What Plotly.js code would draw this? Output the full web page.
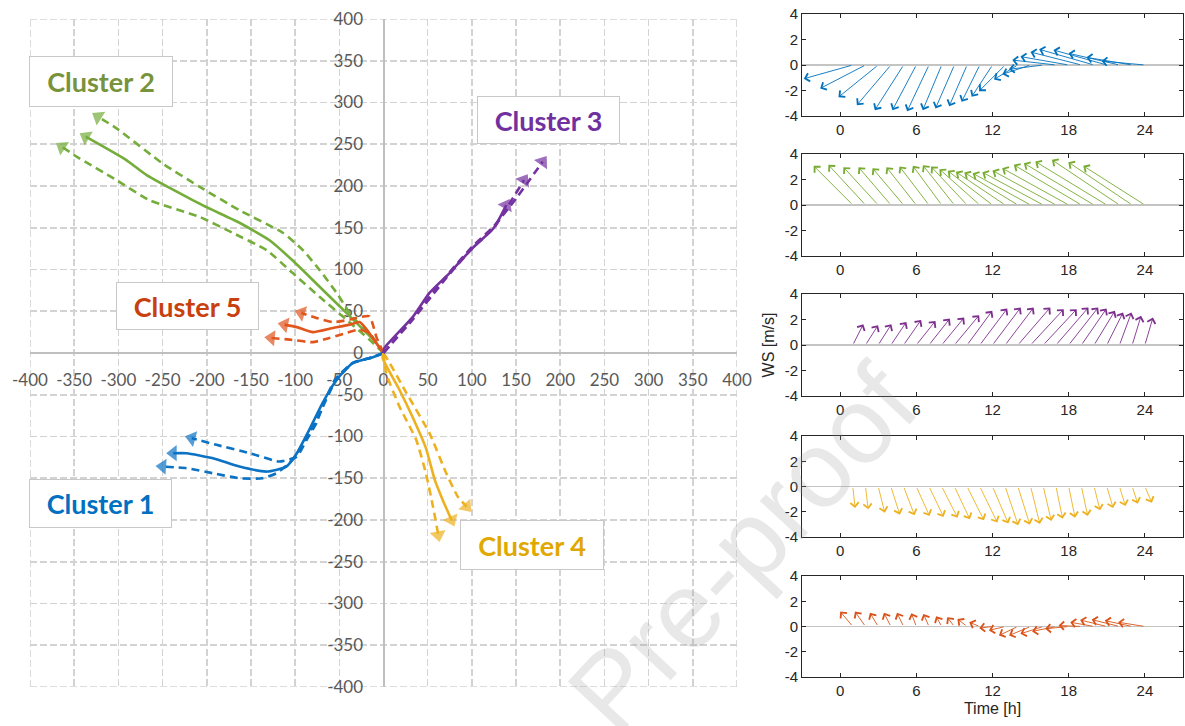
<!DOCTYPE html>
<html>
<head>
<meta charset="utf-8">
<script src="https://cdn.plot.ly/plotly-3.0.1.min.js"></script>
<style>
  html, body { margin: 0; padding: 0; background: #fff; }
  #chart { width: 1185px; height: 726px; }
</style>
</head>
<body>
<div id="chart"></div>
<script>
// ---------- Hodograph (cumulative wind run) per cluster ----------
// Each cluster: mean path (solid) and two bounding paths (dashed).
const C1_MEAN_X = [0, -12, -35, -53, -69, -84, -98, -110, -132, -163, -193, -223, -238];
const C1_MEAN_Y = [0, -5, -12, -32, -60, -92, -120, -136, -142, -136, -126, -120, -120];
const C1_HI_X   = [0, -12, -35, -55, -67, -76, -87, -98, -118, -151, -189, -217];
const C1_HI_Y   = [0, -5, -12, -32, -59, -84, -104, -124, -130, -120, -110, -102];
const C1_LO_X   = [0, -12, -35, -55, -72, -84, -103, -121, -137, -163, -193, -223, -250];
const C1_LO_Y   = [0, -5, -12, -35, -72, -96, -128, -144, -150, -150, -144, -138, -136];

const C2_MEAN_X = [0, -8, -42, -72, -103, -129, -163, -205, -268, -291, -337];
const C2_MEAN_Y = [0, 12, 48, 79, 111, 135, 156, 177, 213, 231, 259];
const C2_HI_X   = [0, -16, -35, -53, -72, -91, -114, -163, -208, -250, -302, -323];
const C2_HI_Y   = [0, 24, 43, 72, 99, 123, 144, 171, 199, 227, 269, 283];
const C2_LO_X   = [0, -16, -42, -72, -103, -132, -171, -208, -265, -302, -347, -364];
const C2_LO_Y   = [0, 16, 40, 67, 96, 123, 144, 163, 183, 207, 235, 247];

const C3_MEAN_X = [0, 1, 33, 52, 75, 101, 125, 139];
const C3_MEAN_Y = [0, 6, 43, 72, 96, 126, 150, 177];
const C3_HI_X   = [0, 33, 75, 101, 125, 150, 165, 180];
const C3_HI_Y   = [0, 42, 97, 128, 152, 185, 207, 229];
const C3_LO_X   = [0, 33, 75, 101, 125, 142, 159];
const C3_LO_Y   = [0, 40, 95, 126, 150, 178, 207];

const C4_MEAN_X = [0, -1, 18, 33, 48, 58, 67, 77];
const C4_MEAN_Y = [0, -6, -44, -77, -114, -152, -176, -200];
const C4_HI_X   = [0, 7, 26, 52, 71, 84, 94];
const C4_HI_Y   = [0, -12, -48, -96, -144, -172, -184];
const C4_LO_X   = [0, 3, 18, 37, 48, 56, 62];
const C4_LO_Y   = [0, -24, -64, -104, -144, -184, -218];

const C5_MEAN_X = [0, -5, -19, -27, -38, -57, -80, -98, -112];
const C5_MEAN_Y = [0, 7, 28, 37, 34, 30, 25, 31, 34];
const C5_HI_X   = [0, -8, -12, -16, -27, -38, -57, -76, -93];
const C5_HI_Y   = [0, 19, 34, 44, 43, 40, 37, 42, 48];
const C5_LO_X   = [0, -8, -16, -27, -42, -61, -80, -106, -127];
const C5_LO_Y   = [0, 12, 24, 28, 24, 18, 13, 16, 18];

const CLUSTER_NAMES = ['Cluster 1', 'Cluster 2', 'Cluster 3', 'Cluster 4', 'Cluster 5'];
const RUN_TICKS = [-400, -350, -300, -250, -200, -150, -100, -50, 0, 50, 100, 150, 200, 250, 300, 350, 400];

// ---------- Hourly wind vectors per cluster (quiver panels) ----------
const HOURS = [1, 2, 3, 4, 5, 6, 7, 8, 9, 10, 11, 12, 13, 14, 15, 16, 17, 18, 19, 20, 21, 22, 23, 24];
const Q1_U = [-3.86, -3.57, -3.13, -2.68, -2.27, -1.88, -1.72, -1.49, -1.49, -1.41, -1.43, -1.64, -2.06, -1.88, -2.22, -2.71, -3.44, -3.80, -4.01, -4.33, -4.20, -4.01, -3.60, -3.41];
const Q1_V = [-1.08, -1.84, -2.52, -3.15, -3.54, -3.54, -3.62, -3.54, -3.41, -3.23, -2.89, -2.49, -2.05, -1.13, -0.73, -0.34, 0.39, 0.66, 1.02, 1.23, 1.18, 0.92, 0.60, 0.31];
const Q2_U = [-3.08, -2.92, -2.74, -2.55, -2.45, -2.35, -2.32, -2.27, -2.48, -2.84, -3.18, -3.52, -3.88, -4.22, -4.56, -4.80, -5.00, -5.24, -5.32, -5.53, -5.63, -5.32, -5.03, -4.85];
const Q2_V = [3.07, 3.15, 2.97, 2.97, 2.89, 2.97, 3.02, 3.07, 3.12, 3.02, 2.81, 2.68, 2.60, 2.55, 2.49, 2.57, 2.70, 2.89, 3.15, 3.28, 3.41, 3.54, 3.36, 3.07];
const Q3_U = [0.83, 0.99, 1.04, 1.22, 1.38, 1.51, 1.64, 1.77, 1.95, 1.98, 2.16, 2.22, 2.24, 2.55, 2.61, 2.63, 2.55, 2.32, 1.98, 1.64, 1.28, 0.94, 0.70, 0.63];
const Q3_V = [1.63, 1.55, 1.63, 1.81, 1.97, 1.89, 2.07, 2.15, 2.34, 2.68, 2.86, 2.94, 2.94, 2.94, 2.81, 2.81, 2.94, 2.94, 2.86, 2.68, 2.55, 2.55, 2.29, 2.15];
const Q4_U = [0.18, 0.21, 0.52, 0.70, 0.86, 1.04, 1.15, 1.25, 1.22, 1.33, 1.38, 1.25, 1.02, 0.94, 0.73, 0.63, 0.52, 0.50, 0.50, 0.47, 0.50, 0.47, 0.44, 0.55];
const Q4_V = [-1.71, -1.81, -2.07, -2.23, -2.28, -2.34, -2.41, -2.47, -2.60, -2.68, -2.86, -2.94, -3.07, -3.02, -2.97, -2.73, -2.55, -2.47, -2.34, -1.89, -1.71, -1.55, -1.36, -1.29];
const Q5_U = [-0.99, -0.83, -0.65, -0.55, -0.52, -0.39, -0.44, -0.44, -0.57, -0.76, -0.83, -1.04, -1.28, -1.49, -1.69, -1.80, -1.88, -1.85, -1.80, -1.88, -2.10, -2.19, -2.16, -2.11];
const Q5_V = [1.18, 1.18, 1.08, 1.08, 1.08, 1.05, 1.00, 0.81, 0.73, 0.60, 0.34, -0.13, -0.31, -0.71, -0.71, -0.58, -0.39, -0.18, 0.08, 0.34, 0.52, 0.55, 0.47, 0.34];

const TIME_TICKS = [0, 6, 12, 18, 24];
const WS_TICKS = [-4, -2, 0, 2, 4];
const RUN_LIMIT = 400;   // extent of the hodograph axes

// plain hyphen-minus labels (Plotly would otherwise use the wider U+2212)
const label = v => String(v);

// ---------- styling ----------
const W = 1185, H = 726;
const px = v => v / W;          // pixel -> paper x
const py = v => 1 - v / H;      // pixel -> paper y

const LINE_COLORS = ['#0B72C4', '#74AD3A', '#7431A0', '#EDB120', '#E0561C'];
const LABEL_COLORS = ['#0070C0', '#77933C', '#7030A0', '#E0A800', '#C8400E'];
const QUIVER_COLORS = ['#0072BD', '#77AC30', '#7E2F8E', '#EDB120', '#D95319'];
const GRID_COLOR = '#d3d3d3', GRID_DASH = '7px,3px', GRID_W = 1.6;

function path(xs, ys, color, dashed) {
  return {
    type: 'scatter', mode: 'lines+markers', x: xs, y: ys,
    xaxis: 'x', yaxis: 'y',
    line: { color: color, width: 2.6, dash: dashed ? '8px,5px' : 'solid', shape: 'spline', smoothing: 0.5 },
    marker: {
      symbol: 'triangle-up', angleref: 'previous', color: color,
      size: xs.map((_, i) => (i === xs.length - 1 ? 14 : 0)),
      line: { width: 0 }
    },
    cliponaxis: false, hoverinfo: 'skip', showlegend: false
  };
}

const traces = [
  path(C2_HI_X, C2_HI_Y, LINE_COLORS[1], true),
  path(C2_LO_X, C2_LO_Y, LINE_COLORS[1], true),
  path(C2_MEAN_X, C2_MEAN_Y, LINE_COLORS[1], false),
  path(C5_HI_X, C5_HI_Y, LINE_COLORS[4], true),
  path(C5_LO_X, C5_LO_Y, LINE_COLORS[4], true),
  path(C5_MEAN_X, C5_MEAN_Y, LINE_COLORS[4], false),
  path(C1_HI_X, C1_HI_Y, LINE_COLORS[0], true),
  path(C1_LO_X, C1_LO_Y, LINE_COLORS[0], true),
  path(C1_MEAN_X, C1_MEAN_Y, LINE_COLORS[0], false),
  path(C4_HI_X, C4_HI_Y, LINE_COLORS[3], true),
  path(C4_LO_X, C4_LO_Y, LINE_COLORS[3], true),
  path(C4_MEAN_X, C4_MEAN_Y, LINE_COLORS[3], false),
  path(C3_HI_X, C3_HI_Y, LINE_COLORS[2], true),
  path(C3_LO_X, C3_LO_Y, LINE_COLORS[2], true),
  path(C3_MEAN_X, C3_MEAN_Y, LINE_COLORS[2], false)
];

// empty traces so that every quiver subplot exists
for (let k = 2; k <= 6; k++) {
  traces.push({ type: 'scatter', mode: 'markers', x: [], y: [], xaxis: 'x' + k, yaxis: 'y' + k,
                hoverinfo: 'skip', showlegend: false });
}

const leftX = [px(30), px(737)];
const leftY = [py(687), py(19)];
const tickFont = { family: 'Lato, Carlito, sans-serif', size: 17, color: '#595959' };

const layout = {
  width: W, height: H,
  margin: { l: 0, r: 0, t: 0, b: 0 },
  paper_bgcolor: '#ffffff', plot_bgcolor: 'rgba(0,0,0,0)',
  showlegend: false,
  xaxis: {
    domain: leftX, range: [-RUN_LIMIT, RUN_LIMIT],
    tickmode: 'array', tickvals: RUN_TICKS, ticktext: RUN_TICKS.map(label),
    anchor: 'free', position: (leftY[0] + leftY[1]) / 2,
    showline: true, linecolor: '#bfbfbf', linewidth: 2, layer: 'below traces',
    showgrid: true, gridcolor: GRID_COLOR, gridwidth: GRID_W, griddash: GRID_DASH,
    zeroline: false, ticks: '', ticklabelstandoff: 12, tickfont: tickFont,
    fixedrange: true
  },
  yaxis: {
    domain: leftY, range: [-RUN_LIMIT, RUN_LIMIT],
    tickmode: 'array', tickvals: RUN_TICKS, ticktext: RUN_TICKS.map(label),
    anchor: 'free', position: (leftX[0] + leftX[1]) / 2,
    showline: true, linecolor: '#bfbfbf', linewidth: 2, layer: 'below traces',
    showgrid: true, gridcolor: GRID_COLOR, gridwidth: GRID_W, griddash: GRID_DASH,
    zeroline: false, ticks: '', ticklabelstandoff: 16, tickfont: tickFont,
    fixedrange: true
  },
  shapes: [],
  annotations: [],
  font: { family: 'Liberation Sans, Arial, sans-serif' }
};

// outer dashed frame of the hodograph grid
[[-RUN_LIMIT, -RUN_LIMIT, -RUN_LIMIT, RUN_LIMIT], [RUN_LIMIT, -RUN_LIMIT, RUN_LIMIT, RUN_LIMIT],
 [-RUN_LIMIT, -RUN_LIMIT, RUN_LIMIT, -RUN_LIMIT], [-RUN_LIMIT, RUN_LIMIT, RUN_LIMIT, RUN_LIMIT]].forEach(s => {
  layout.shapes.push({ type: 'line', xref: 'x', yref: 'y', x0: s[0], y0: s[1], x1: s[2], y1: s[3],
    layer: 'below', line: { color: GRID_COLOR, width: GRID_W, dash: GRID_DASH } });
});

// quiver panels
const panelTops = [14, 154, 294, 436, 576];
const panelBottoms = [116, 256, 396, 537, 677];
const quiverFont = { family: 'Liberation Sans, Arial, sans-serif', size: 15, color: '#262626' };
for (let k = 0; k < 5; k++) {
  const n = k + 2;
  layout['xaxis' + n] = {
    domain: [px(802), px(1183)], range: [-3, 27], anchor: 'y' + n,
    tickmode: 'array', tickvals: TIME_TICKS, ticktext: TIME_TICKS.map(label),
    ticks: 'inside', ticklen: 4, tickcolor: '#262626',
    showline: true, mirror: 'ticks', linecolor: '#262626', linewidth: 1,
    showgrid: false, zeroline: false, tickfont: quiverFont, fixedrange: true
  };
  layout['yaxis' + n] = {
    domain: [py(panelBottoms[k]), py(panelTops[k])], range: [-4, 4], anchor: 'x' + n,
    tickmode: 'array', tickvals: WS_TICKS, ticktext: WS_TICKS.map(label),
    ticks: 'inside', ticklen: 4, tickcolor: '#262626',
    showline: true, mirror: 'ticks', linecolor: '#262626', linewidth: 1,
    showgrid: false, zeroline: true, zerolinecolor: '#c4c4c4', zerolinewidth: 1.5,
    tickfont: quiverFont, fixedrange: true
  };
}
layout.yaxis4.title = { text: 'WS [m/s]', font: { family: 'Liberation Sans, Arial, sans-serif', size: 16, color: '#262626' }, standoff: 6 };
layout.xaxis6.title = { text: 'Time [h]', font: { family: 'Liberation Sans, Arial, sans-serif', size: 16, color: '#262626' }, standoff: 4 };

const quivers = [[Q1_U, Q1_V], [Q2_U, Q2_V], [Q3_U, Q3_V], [Q4_U, Q4_V], [Q5_U, Q5_V]];
quivers.forEach((q, k) => {
  const xr = 'x' + (k + 2), yr = 'y' + (k + 2);
  HOURS.forEach((t, i) => {
    layout.annotations.push({
      xref: xr, yref: yr, axref: xr, ayref: yr,
      x: t + q[0][i], y: q[1][i], ax: t, ay: 0,
      text: '', showarrow: true, arrowhead: 4, arrowsize: 1.8, arrowwidth: 0.9,
      arrowcolor: QUIVER_COLORS[k], standoff: 0, startstandoff: 0
    });
  });
});

// watermark
layout.annotations.push({
  xref: 'paper', yref: 'paper', x: px(742), y: py(548), xanchor: 'center', yanchor: 'middle',
  text: 'Pre-proof', showarrow: false, textangle: -47,
  font: { family: 'Liberation Sans, Arial, sans-serif', size: 108, color: 'rgba(150,150,150,0.22)' }
});

// cluster labels
const labelBoxes = [
  { cx: 100.5, cy: 503.5, w: 143, h: 49 },
  { cx: 101, cy: 81.5, w: 144, h: 51 },
  { cx: 548.5, cy: 120, w: 143, h: 48 },
  { cx: 532, cy: 545, w: 144, h: 50 },
  { cx: 187.5, cy: 306, w: 143, h: 48 }
];
labelBoxes.forEach((b, k) => {
  layout.annotations.push({
    xref: 'paper', yref: 'paper', x: px(b.cx), y: py(b.cy),
    xanchor: 'center', yanchor: 'middle',
    text: '<b>' + CLUSTER_NAMES[k] + '</b>', showarrow: false,
    width: b.w - 2, height: b.h - 2, borderpad: 0, borderwidth: 1,
    bordercolor: '#c8c8c8', bgcolor: '#ffffff',
    font: { family: 'Lato, Carlito, sans-serif', size: 27, color: LABEL_COLORS[k] }
  });
});

Plotly.newPlot('chart', traces, layout, { staticPlot: true, displayModeBar: false });
</script>
</body>
</html>
